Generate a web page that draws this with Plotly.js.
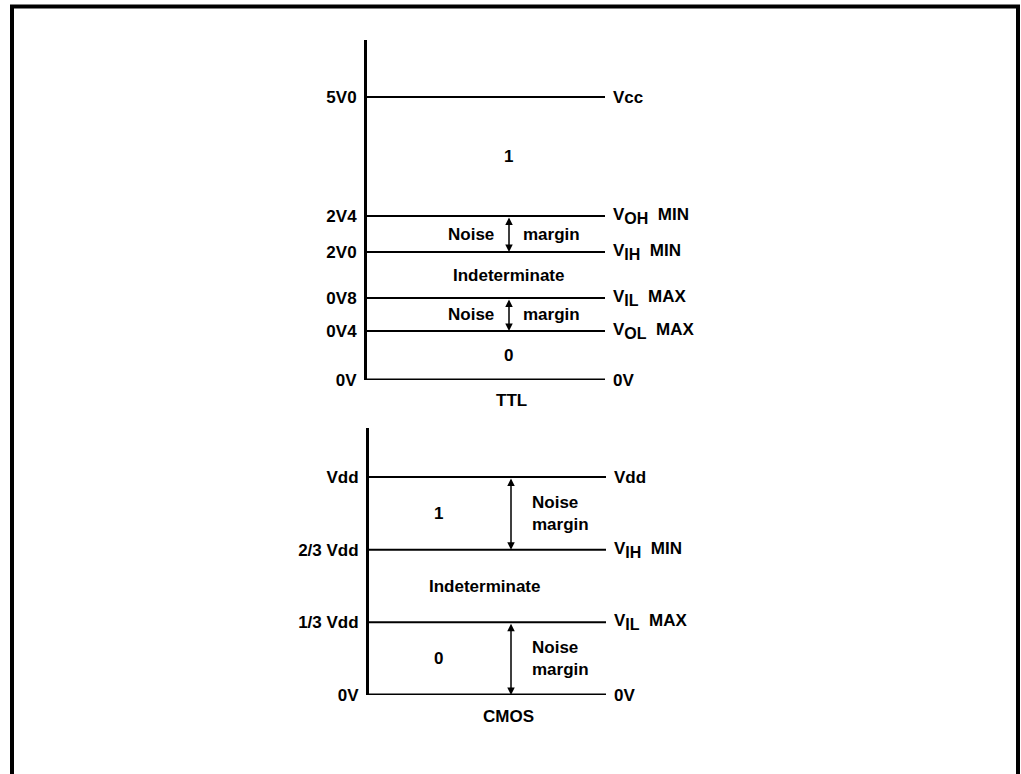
<!DOCTYPE html>
<html>
<head>
<meta charset="utf-8">
<script src="https://cdn.plot.ly/plotly-3.0.1.min.js"></script>
<style>html,body{margin:0;padding:0;background:#fff;}#chart{width:1021px;height:774px;}</style>
</head>
<body>
<div id="chart"></div>
<script>
// TTL levels (schematic diagram positions, 0V at bottom)
const ttlTicks = ['5V0', '2V4', '2V0', '0V8', '0V4', '0V'];
const ttlPos = [283, 164, 128, 82, 49, 0];
const ttlRight = ['Vcc', 'V|OH| MIN', 'V|IH| MIN', 'V|IL| MAX', 'V|OL| MAX', '0V'];
const ttlRegions = ['1', 'Noise', 'Indeterminate', 'Noise', '0'];
const ttlMax = 340;

// CMOS levels (fractions of Vdd)
const cmosTicks = ['Vdd', '2/3 Vdd', '1/3 Vdd', '0V'];
const cmosPos = [1, 2/3, 1/3, 0];
const cmosRight = ['Vdd', 'V|IH| MIN', 'V|IL| MAX', '0V'];
const cmosRegions = ['1', 'Indeterminate', '0'];
const cmosMax = 1.225;

const FONT = {family: 'Liberation Sans, Arial, Helvetica, sans-serif', size: 17, color: '#000', weight: 'bold'};
const W = 1021, H = 774;

// turn "V|OH| MIN" into a label with a full-size lowered subscript
function subLabel(s) {
  const parts = s.split('|');
  if (parts.length < 3) return s;
  return parts[0] + '<sub><span style="font-size:16px">' + parts[1] + '</span></sub>  ' + parts[2].trim();
}

// layout geometry (pixels)
const ttlAxisX = 365, ttlLineEnd = 605, ttlTop = 40, ttlBottom = 380;
const cmosAxisX = 367, cmosLineEnd = 606, cmosTop = 428, cmosBottom = 695;

const traces = [];
function levelLines(pos, x0, x1, yaxis) {
  pos.forEach((p) => {
    traces.push({
      type: 'scatter', mode: 'lines', x: [x0, x1], y: [p, p], yaxis: yaxis, xaxis: 'x',
      line: {color: '#000', width: p === 0 ? 3 : 2}, hoverinfo: 'skip', showlegend: false
    });
  });
}
levelLines(ttlPos, ttlAxisX, ttlLineEnd, 'y');
levelLines(cmosPos, cmosAxisX, cmosLineEnd, 'y2');

const ann = [];
function rightLabels(pos, labels, x, yref) {
  pos.forEach((p, i) => ann.push({x: x, y: p, xref: 'x', yref: yref, text: subLabel(labels[i]), showarrow: false,
    xanchor: 'left', yanchor: 'middle', font: FONT}));
}
rightLabels(ttlPos, ttlRight, ttlLineEnd + 6, 'y');
rightLabels(cmosPos, cmosRight, cmosLineEnd + 6, 'y2');

function mid(pos, i) { return (pos[i] + pos[i + 1]) / 2; }

// TTL region labels
const ttlCx = 508;
ttlRegions.forEach((t, i) => {
  const y = mid(ttlPos, i);
  if (t === 'Noise') {
    ann.push({x: ttlCx - 12, y: y, xref: 'x', yref: 'y', text: 'Noise', showarrow: false, xanchor: 'right', font: FONT});
    ann.push({x: ttlCx + 13, y: y, xref: 'x', yref: 'y', text: 'margin', showarrow: false, xanchor: 'left', font: FONT});
    ann.push({x: ttlCx + 1, y: ttlPos[i + 1], ax: ttlCx + 1, ay: ttlPos[i], xref: 'x', yref: 'y', axref: 'x', ayref: 'y',
      text: '', showarrow: true, arrowside: 'end+start', arrowhead: 2, arrowsize: 1, arrowwidth: 1.5, arrowcolor: '#000',
      standoff: 0, startstandoff: 0});
  } else {
    ann.push({x: ttlCx, y: y, xref: 'x', yref: 'y', text: t, showarrow: false, font: FONT});
  }
});
ann.push({x: 511, y: 0, xref: 'x', yref: 'y', yshift: -20, text: 'TTL', showarrow: false, font: FONT});

// CMOS region labels
const cmosXs = [438, 484, 438];
cmosRegions.forEach((t, i) => {
  ann.push({x: cmosXs[i], y: mid(cmosPos, i), xref: 'x', yref: 'y2', text: t, showarrow: false, font: FONT});
});
// CMOS noise margins (1 region and 0 region)
[[0, 1], [2, 3]].forEach(([a, b]) => {
  ann.push({x: 511, y: cmosPos[b], ax: 511, ay: cmosPos[a], xref: 'x', yref: 'y2', axref: 'x', ayref: 'y2',
    text: '', showarrow: true, arrowside: 'end+start', arrowhead: 2, arrowsize: 1, arrowwidth: 1.5, arrowcolor: '#000',
    standoff: 0, startstandoff: 0});
  ann.push({x: 530, y: (cmosPos[a] + cmosPos[b]) / 2, xref: 'x', yref: 'y2', text: 'Noise<br>margin', showarrow: false,
    xanchor: 'left', align: 'left', font: FONT});
});
ann.push({x: 508, y: 0, xref: 'x', yref: 'y2', yshift: -21, text: 'CMOS', showarrow: false, font: FONT});

const yBase = {
  showgrid: false, zeroline: false, showline: true, linecolor: '#000', linewidth: 3,
  ticks: 'outside', ticklen: 4, tickcolor: 'rgba(0,0,0,0)', tickfont: FONT, anchor: 'free', fixedrange: true,
  tickmode: 'array'
};

const layout = {
  width: W, height: H, margin: {l: 0, r: 0, t: 0, b: 0},
  paper_bgcolor: '#fff', plot_bgcolor: '#fff', showlegend: false,
  xaxis: {range: [0, W], domain: [0, 1], visible: false, fixedrange: true},
  yaxis: Object.assign({}, yBase, {
    range: [0, ttlMax], domain: [(H - ttlBottom) / H, (H - ttlTop) / H], position: ttlAxisX / W,
    tickvals: ttlPos, ticktext: ttlTicks
  }),
  yaxis2: Object.assign({}, yBase, {
    range: [0, cmosMax], domain: [(H - cmosBottom) / H, (H - cmosTop) / H], position: cmosAxisX / W,
    tickvals: cmosPos, ticktext: cmosTicks
  }),
  annotations: ann,
  shapes: [{type: 'rect', xref: 'paper', yref: 'paper', x0: 12 / W, x1: 1018 / W, y0: -0.05, y1: (H - 6.5) / H,
    line: {color: '#000', width: 4}}]
};

Plotly.newPlot('chart', traces, layout, {displayModeBar: false, staticPlot: true});
</script>
</body>
</html>
